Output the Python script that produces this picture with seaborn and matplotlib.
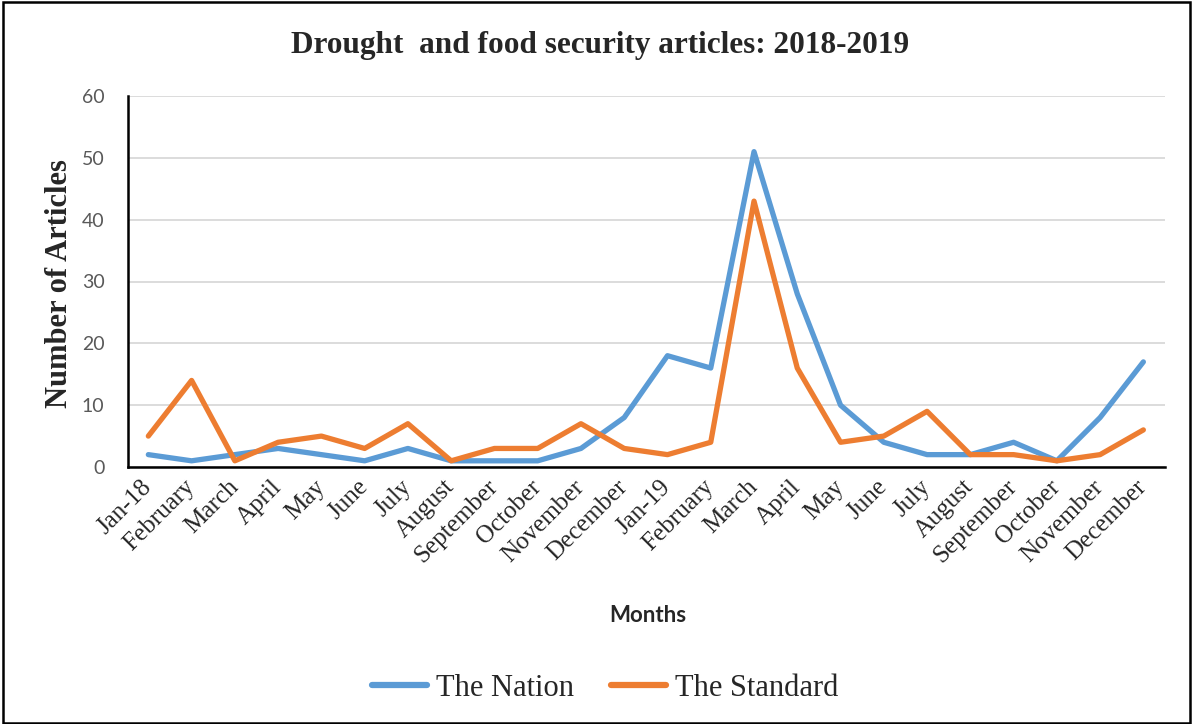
import numpy as np
import pandas as pd
import seaborn as sns
import matplotlib.pyplot as plt
import matplotlib.transforms as mtrans
from matplotlib.patches import Rectangle

# data
months = ['Jan-18', 'February', 'March', 'April', 'May', 'June', 'July', 'August',
          'September', 'October', 'November', 'December',
          'Jan-19', 'February', 'March', 'April', 'May', 'June', 'July', 'August',
          'September', 'October', 'November', 'December']
nation = [2, 1, 2, 3, 2, 1, 3, 1, 1, 1, 3, 8, 18, 16, 51, 28, 10, 4, 2, 2, 4, 1, 8, 17]
standard = [5, 14, 1, 4, 5, 3, 7, 1, 3, 3, 7, 3, 2, 4, 43, 16, 4, 5, 9, 2, 2, 1, 2, 6]
papers = ['The Nation', 'The Standard']
colors = ['#5B9BD5', '#ED7D31']
yticks = [0, 10, 20, 30, 40, 50, 60]

n = len(months)
df = pd.DataFrame({'pos': list(range(n)) * 2,
                   'articles': nation + standard,
                   'paper': [papers[0]] * n + [papers[1]] * n})

sns.set_style('white')
serif = ['Liberation Serif', 'DejaVu Serif']
sans = ['Lato', 'DejaVu Sans']

fig = plt.figure(figsize=(11.93, 7.24), dpi=100)
ax = fig.add_axes([128 / 1193, 1 - 467 / 724, (1165 - 128) / 1193, (467 - 96) / 724])

sns.lineplot(data=df, x='pos', y='articles', hue='paper', palette=colors,
             linewidth=3.8, sort=False, ax=ax, legend=False)
for ln in ax.lines:
    ln.set_solid_capstyle('round')
    ln.set_solid_joinstyle('round')

ax.set_xlim(-0.47, n - 0.5)
ax.set_ylim(0, 60)
ax.set_yticks(yticks)
ax.set_yticklabels([str(v) for v in yticks], family=sans, fontsize=14, color='#595959')
ax.set_xticks(range(n))
ax.set_xticklabels(months, rotation=45, ha='right', va='center', rotation_mode='anchor',
                   family=serif, fontsize=18)
# nudge the rotated month labels a little to the right, as in the original
shift = mtrans.ScaledTranslation(0.07, 0, fig.dpi_scale_trans)
for lab in ax.get_xticklabels():
    lab.set_transform(lab.get_transform() + shift)
ax.tick_params(axis='both', length=0)
ax.tick_params(axis='x', pad=12)
ax.tick_params(axis='y', pad=17)
ax.grid(axis='y', color='#D9D9D9', linewidth=1.3)
ax.set_axisbelow(True)
for s in ['top', 'right']:
    ax.spines[s].set_visible(False)
for s in ['left', 'bottom']:
    ax.spines[s].set_color('black')
    ax.spines[s].set_linewidth(1.8)
ax.set_xlabel('')
ax.set_ylabel('')

fig.text(600 / 1193, 1 - 45 / 724, 'Drought  and food security articles: 2018-2019',
         family=serif, fontsize=22.5, fontweight='bold', ha='center', va='center')
fig.text(60 / 1193, 1 - 284 / 724, 'Number of Articles', family=serif, fontsize=22,
         fontweight='bold', rotation=90, ha='center', va='center')
fig.text(648 / 1193, 1 - 615 / 724, 'Months', family=sans, fontsize=16,
         fontweight='bold', ha='center', va='center')

handles = [plt.Line2D([], [], color=c, linewidth=4.5, solid_capstyle='round') for c in colors]
fig.legend(handles, papers, loc='center', bbox_to_anchor=(605 / 1193, 1 - 688 / 724),
           ncol=2, frameon=False, prop={'family': serif, 'size': 22},
           handlelength=1.8, handletextpad=0.3, columnspacing=1.2)

fig.patches.append(Rectangle((3 / 1193, 1 / 724), 1187 / 1193, 721 / 724,
                             transform=fig.transFigure, fill=False,
                             edgecolor='black', linewidth=1.8))

fig.savefig('out.png', dpi=100)
